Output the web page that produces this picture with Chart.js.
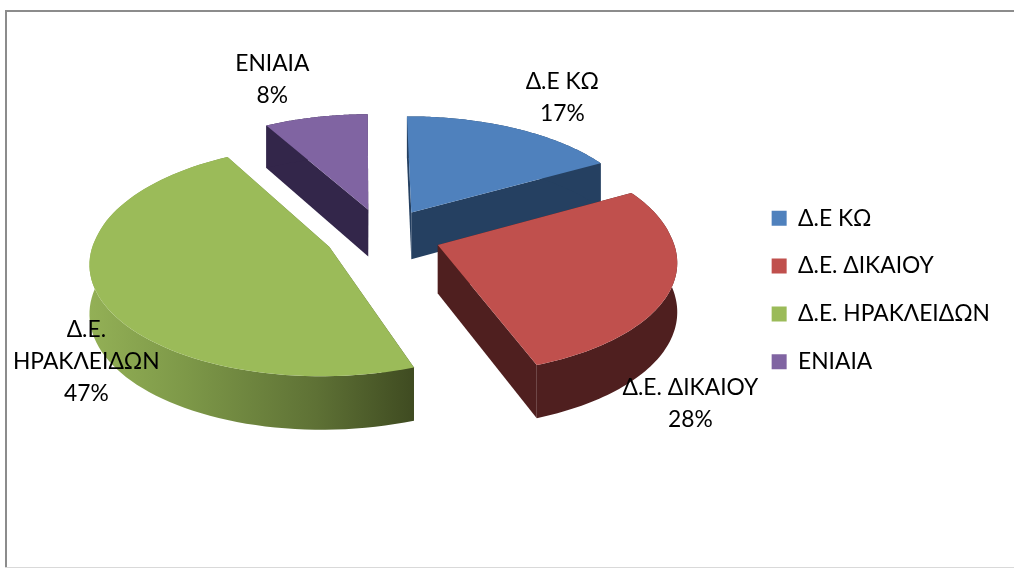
<!DOCTYPE html>
<html><head><meta charset="utf-8">
<style>html,body{margin:0;padding:0;background:#fff}#w{position:relative;width:1014px;height:568px;overflow:hidden}canvas{display:block}</style>
<script src="https://cdn.jsdelivr.net/npm/chart.js@4/dist/chart.umd.min.js"></script>
</head><body><div id="w"><canvas id="c" width="1014" height="568"></canvas></div>
<script>
const categories = ['Δ.Ε ΚΩ', 'Δ.Ε. ΔΙΚΑΙΟΥ', 'Δ.Ε. ΗΡΑΚΛΕΙΔΩΝ', 'ΕΝΙΑΙΑ'];
const shares = [17.0, 27.6, 47.4, 8.0];
const labelLines = [['Δ.Ε ΚΩ'], ['Δ.Ε. ΔΙΚΑΙΟΥ'], ['Δ.Ε.', 'ΗΡΑΚΛΕΙΔΩΝ'], ['ΕΝΙΑΙΑ']];
const topColors = ['#4f81bd', '#c0504d', '#9bbb59', '#8064a2'];
const sideColors = ['#254061', '#4f1f1f', null, '#33264a'];
const FONT = 'Lato, "Open Sans", sans-serif';

const view = {dx: 9.5, dy: -54.5, tilt: 0.47, kBack: 0.1, kFront: 0.125, depth: 48, depthV: 5};
const labelAnchors = [[189, -208], [317, 98], [-287, 40], [-101, -226]];

function project(arc, u, v) {
  const R = arc.outerRadius, s = 1 / (1 - (v > 0 ? view.kFront : view.kBack) * v);
  return {x: arc.x + view.dx + R * u * s, y: arc.y + view.dy + R * view.tilt * v * s, v};
}
function outline(arc) {
  const mid = (arc.startAngle + arc.endAngle) / 2, d = arc.options.offset / arc.outerRadius;
  const ou = Math.cos(mid) * d, ov = Math.sin(mid) * d;
  const rim = [], n = 80;
  for (let i = 0; i <= n; i++) {
    const a = arc.startAngle + (arc.endAngle - arc.startAngle) * i / n;
    rim.push(project(arc, ou + Math.cos(a), ov + Math.sin(a)));
  }
  return {apex: project(arc, ou, ov), rim};
}
function fillPoly(ctx, pts, fill) {
  ctx.beginPath();
  pts.forEach((p, j) => j ? ctx.lineTo(p.x, p.y) : ctx.moveTo(p.x, p.y));
  ctx.closePath(); ctx.fillStyle = fill; ctx.fill();
}
const pie3d = {
  id: 'pie3d',
  beforeDatasetDraw(chart) {
    const ctx = chart.ctx, arcs = chart.getDatasetMeta(0).data;
    const m = i => Math.sin((arcs[i].startAngle + arcs[i].endAngle) / 2);
    const order = arcs.map((a, i) => i).sort((p, q) => m(p) - m(q));
    const low = p => ({x: p.x, y: p.y + view.depth + view.depthV * p.v});
    order.forEach(i => {
      const {apex, rim} = outline(arcs[i]);
      let side = sideColors[i];
      if (!side) {
        const xs = rim.map(p => p.x), g = ctx.createLinearGradient(Math.min(...xs), 0, Math.max(...xs), 0);
        g.addColorStop(0, '#93b056'); g.addColorStop(0.3, '#7d9848'); g.addColorStop(0.7, '#5e7135'); g.addColorStop(1, '#3f4b21');
        side = g;
      }
      const first = rim[0], last = rim[rim.length - 1];
      fillPoly(ctx, [apex, first, low(first), low(apex)], side);
      fillPoly(ctx, [apex, last, low(last), low(apex)], side);
      fillPoly(ctx, rim.concat(rim.slice().reverse().map(low)), side);
      fillPoly(ctx, [apex].concat(rim), topColors[i]);
    });
    return false;
  },
  afterDraw(chart) {
    const ctx = chart.ctx, arc = chart.getDatasetMeta(0).data[0];
    ctx.save();
    ctx.fillStyle = '#000'; ctx.font = '22.8px ' + FONT; ctx.textAlign = 'center'; ctx.textBaseline = 'middle';
    labelLines.forEach((ls, i) => {
      const lines = ls.concat(Math.round(shares[i]) + '%');
      lines.forEach((t, k) => ctx.fillText(t, arc.x + labelAnchors[i][0], arc.y + labelAnchors[i][1] + k * 32));
    });
    ctx.restore();
  },
  beforeDraw(chart) {
    const ctx = chart.ctx;
    ctx.save();
    ctx.fillStyle = '#fff'; ctx.fillRect(0, 0, 1014, 568);
    ctx.fillStyle = '#8c8c8c'; ctx.fillRect(5, 10, 1009, 2); ctx.fillRect(5, 10, 2, 558);
    ctx.fillStyle = '#d9d9d9'; ctx.fillRect(5, 567, 1009, 1);
    ctx.restore();
  }
};
new Chart(document.getElementById('c'), {
  type: 'pie',
  data: {labels: categories, datasets: [{data: shares, backgroundColor: topColors, borderWidth: 0, offset: 58}]},
  plugins: [pie3d],
  options: {
    responsive: false, animation: false, events: [], rotation: -0.5,
    layout: {padding: {top: 27, bottom: 15, right: 14}},
    plugins: {
      tooltip: {enabled: false},
      legend: {position: 'right', labels: {boxWidth: 15, boxHeight: 15, padding: 25, color: '#000', font: {family: FONT, size: 22.8}}}
    }
  }
});
</script></body></html>
